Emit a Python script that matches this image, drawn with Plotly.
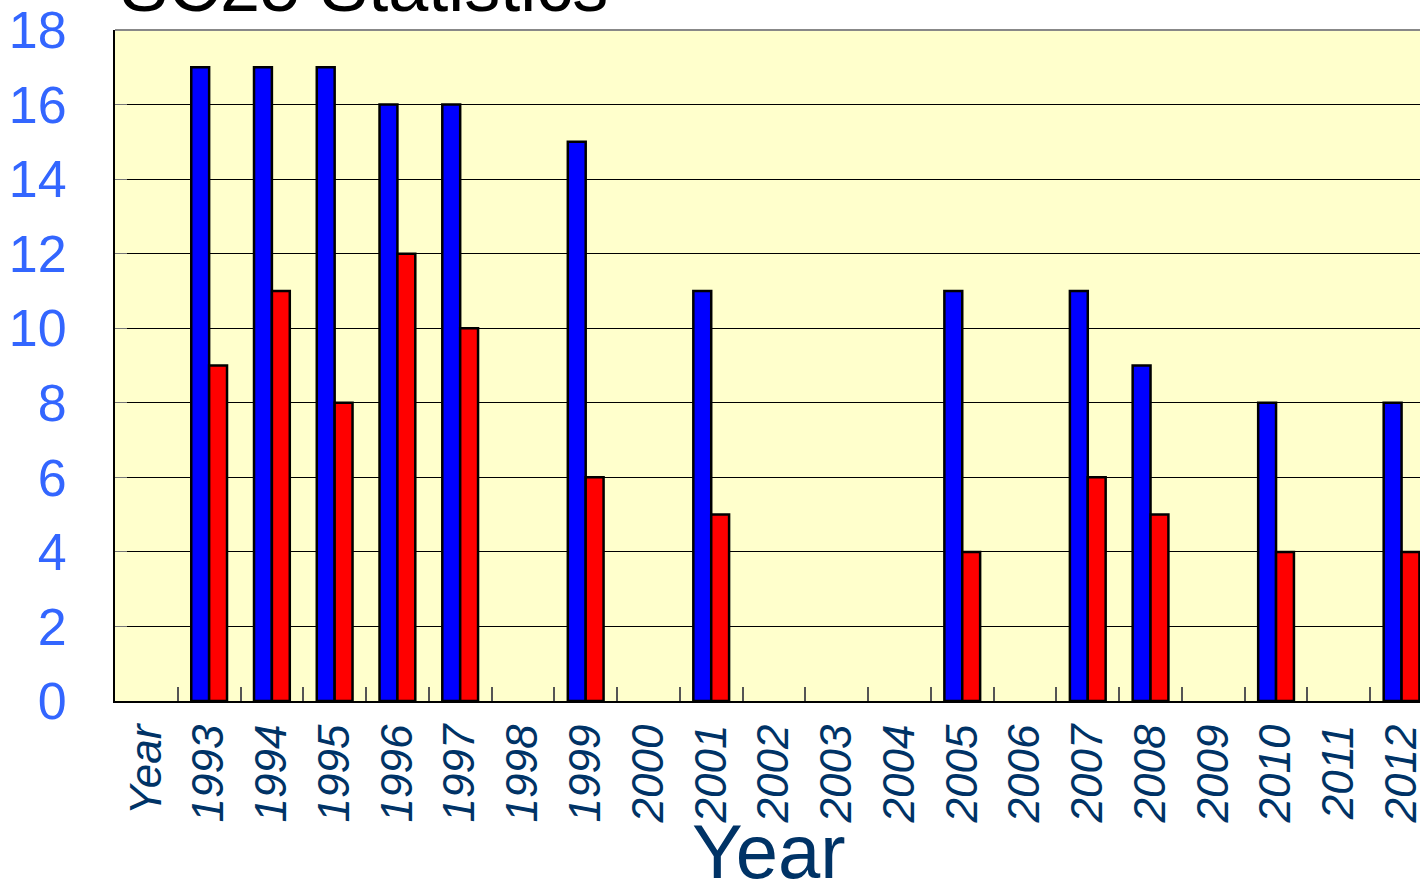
import plotly.graph_objects as go

categories = ["Year", "1993", "1994", "1995", "1996", "1997", "1998", "1999", "2000",
              "2001", "2002", "2003", "2004", "2005", "2006", "2007", "2008", "2009",
              "2010", "2011", "2012"]
blue_values = [None, 17, 17, 17, 16, 16, None, 15, None, 11, None, None, None, 11, None,
               11, 9, None, 8, None, 8]
red_values = [None, 9, 11, 8, 12, 10, None, 6, None, 5, None, None, None, 4, None,
              6, 5, None, 4, None, 4]
y_ticks = [0, 2, 4, 6, 8, 10, 12, 14, 16, 18]

FONT = "Liberation Sans, Arial, sans-serif"

fig = go.Figure()
fig.add_trace(go.Bar(x=categories, y=blue_values, name="Blue",
                     marker=dict(color="#0000FF", line=dict(color="#000000", width=2.5))))
fig.add_trace(go.Bar(x=categories, y=red_values, name="Red",
                     marker=dict(color="#FF0000", line=dict(color="#000000", width=2.5))))

W, H = 1425, 886
L, T, B, R = 115, 30, 185, 0
plot_w = W - L - R
plot_h = H - T - B
cat_px = 63.0
xmax = -0.5 + plot_w / cat_px

fig.update_layout(
    width=W, height=H,
    margin=dict(l=L, r=R, t=T, b=B, pad=0),
    paper_bgcolor="#FFFFFF",
    plot_bgcolor="#FFFFCC",
    barmode="group",
    bargap=0.43,
    bargroupgap=0,
    showlegend=False,
    xaxis=dict(
        type="category",
        categoryorder="array", categoryarray=categories,
        range=[-0.5, xmax],
        showgrid=False,
        showline=True, linecolor="#000000", linewidth=2,
        ticks="inside", tickson="boundaries", ticklen=14, tickcolor="#555555", tickwidth=1.5,
        tickangle=-90,
        tickfont=dict(family=FONT, size=44, color="#003366", style="italic"),
        ticklabelstandoff=4,
        zeroline=False,
    ),
    yaxis=dict(
        range=[0, 18],
        tickvals=y_ticks,
        showgrid=True, gridcolor="#000000", gridwidth=1,
        showline=True, linecolor="#000000", linewidth=2,
        ticks="inside", ticklen=12, tickcolor="#777777",
        tickfont=dict(family=FONT, size=52, color="#3366FF"),
        ticklabelstandoff=36,
        zeroline=False,
    ),
    annotations=[
        dict(
            text="SC25 Statistics", xref="paper", yref="paper",
            x=(118 - L) / plot_w, y=(701 - 28) / plot_h,
            xanchor="left", yanchor="bottom", showarrow=False,
            font=dict(family=FONT, size=72, color="#000000"),
        ),
        dict(
            text="Year", xref="paper", yref="paper",
            x=(772 - L) / plot_w, y=(701 - 896) / plot_h,
            xanchor="center", yanchor="bottom", showarrow=False,
            font=dict(family=FONT, size=76, color="#003366"),
        ),
    ],
    shapes=[dict(type="line", xref="paper", yref="paper", x0=0, x1=1, y0=1, y1=1,
                 line=dict(color="#888888", width=2))],
)

fig.write_html("out.html", config={"displayModeBar": False},
               post_script="document.body.style.margin='0';")
